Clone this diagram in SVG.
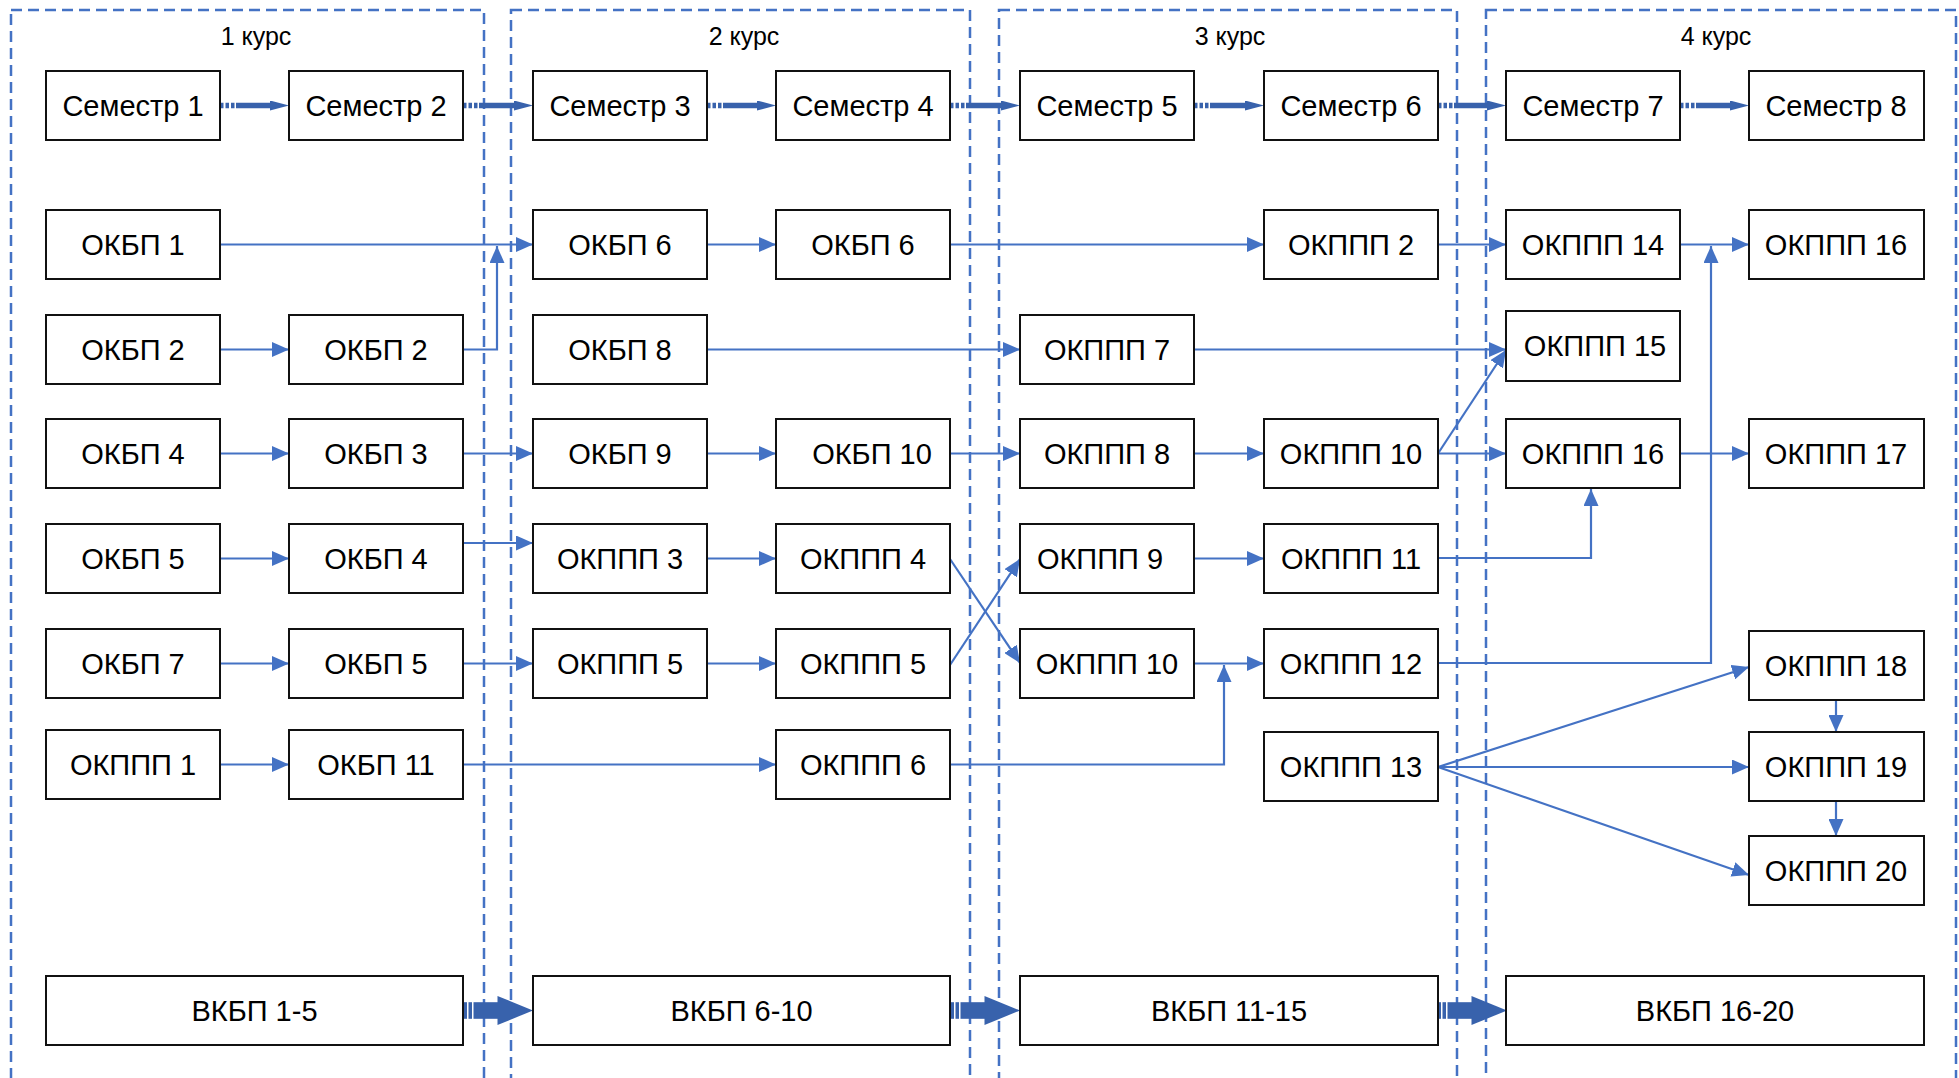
<svg xmlns="http://www.w3.org/2000/svg" width="1959" height="1078" viewBox="0 0 1959 1078">
<style>
.p{fill:none;stroke:#4472C4;stroke-width:2.5;stroke-dasharray:11 6}
.pl{font-family:"Liberation Sans",Arial,sans-serif;font-size:25px;fill:#000;text-anchor:middle}
.n rect{fill:#fff;stroke:#111;stroke-width:2}
.n text{font-family:"Liberation Sans",Arial,sans-serif;font-size:29px;fill:#000;text-anchor:middle}
.c{fill:none;stroke:#4472C4;stroke-width:2.2}
.s{fill:none;stroke:#3862AC;stroke-width:5.5;stroke-dasharray:3.5 2 3.5 2 3.5 1.5 200}
.b{fill:#3862AC}
</style>
<defs>
<marker id="a" markerUnits="userSpaceOnUse" markerWidth="17" markerHeight="15" refX="17" refY="7.5" orient="auto"><path d="M0,0 L17,7.5 L0,15 z" fill="#4472C4"/></marker>
<marker id="sa" markerUnits="userSpaceOnUse" markerWidth="19" markerHeight="10" refX="0" refY="5" orient="auto"><path d="M0,0 L19,5 L0,10 z" fill="#3862AC"/></marker>
<g id="blk"><rect x="0" y="-8.3" width="4" height="16.6"/><rect x="5.5" y="-8.3" width="3.5" height="16.6"/><rect x="10.5" y="-8.3" width="24.5" height="16.6"/><path d="M34.5,-14.5 L70,0 L34.5,14.5 z"/></g>
</defs>
<rect width="1959" height="1078" fill="#fff"/>
<g id="panels">
<rect class="p" x="11" y="10" width="473" height="1090"/>
<rect class="p" x="511" y="10" width="459" height="1090"/>
<rect class="p" x="999" y="10" width="458" height="1090"/>
<rect class="p" x="1486" y="10" width="470" height="1090"/>
<text class="pl" x="256" y="45">1 курс</text>
<text class="pl" x="744" y="45">2 курс</text>
<text class="pl" x="1230" y="45">3 курс</text>
<text class="pl" x="1716" y="45">4 курс</text>
</g>
<g id="connectors">
<path class="s" d="M220,105.5 H270" marker-end="url(#sa)"/>
<path class="s" d="M463,105.5 H514" marker-end="url(#sa)"/>
<path class="s" d="M707,105.5 H757" marker-end="url(#sa)"/>
<path class="s" d="M950,105.5 H1001" marker-end="url(#sa)"/>
<path class="s" d="M1194,105.5 H1245" marker-end="url(#sa)"/>
<path class="s" d="M1438,105.5 H1487" marker-end="url(#sa)"/>
<path class="s" d="M1680,105.5 H1730" marker-end="url(#sa)"/>
<path class="c" d="M220,244.5 H533" marker-end="url(#a)"/>
<path class="c" d="M463,349.5 H497 V246" marker-end="url(#a)"/>
<path class="c" d="M707,244.5 H776" marker-end="url(#a)"/>
<path class="c" d="M950,244.5 H1264" marker-end="url(#a)"/>
<path class="c" d="M1438,244.5 H1506" marker-end="url(#a)"/>
<path class="c" d="M1680,244.5 H1749" marker-end="url(#a)"/>
<path class="c" d="M220,349.5 H289" marker-end="url(#a)"/>
<path class="c" d="M707,349.5 H1020" marker-end="url(#a)"/>
<path class="c" d="M1194,349.5 H1506" marker-end="url(#a)"/>
<path class="c" d="M220,453.5 H289" marker-end="url(#a)"/>
<path class="c" d="M463,453.5 H533" marker-end="url(#a)"/>
<path class="c" d="M707,453.5 H776" marker-end="url(#a)"/>
<path class="c" d="M950,453.5 H1020" marker-end="url(#a)"/>
<path class="c" d="M1194,453.5 H1264" marker-end="url(#a)"/>
<path class="c" d="M1438,453.5 H1506" marker-end="url(#a)"/>
<path class="c" d="M1680,453.5 H1749" marker-end="url(#a)"/>
<path class="c" d="M1438,453.5 L1506,350" marker-end="url(#a)"/>
<path class="c" d="M220,558.5 H289" marker-end="url(#a)"/>
<path class="c" d="M463,543 H533" marker-end="url(#a)"/>
<path class="c" d="M707,558.5 H776" marker-end="url(#a)"/>
<path class="c" d="M1194,558.5 H1264" marker-end="url(#a)"/>
<path class="c" d="M1438,558 H1591 V489" marker-end="url(#a)"/>
<path class="c" d="M950,559 L1020,663" marker-end="url(#a)"/>
<path class="c" d="M950,665 L1020,559" marker-end="url(#a)"/>
<path class="c" d="M220,663.5 H289" marker-end="url(#a)"/>
<path class="c" d="M463,663.5 H533" marker-end="url(#a)"/>
<path class="c" d="M707,663.5 H776" marker-end="url(#a)"/>
<path class="c" d="M1194,663.5 H1264" marker-end="url(#a)"/>
<path class="c" d="M950,764.5 H1224 V665" marker-end="url(#a)"/>
<path class="c" d="M1438,663 H1711 V246" marker-end="url(#a)"/>
<path class="c" d="M220,764.5 H289" marker-end="url(#a)"/>
<path class="c" d="M463,764.5 H776" marker-end="url(#a)"/>
<path class="c" d="M1438,767 L1749,667" marker-end="url(#a)"/>
<path class="c" d="M1438,767 H1749" marker-end="url(#a)"/>
<path class="c" d="M1438,767 L1749,875" marker-end="url(#a)"/>
<path class="c" d="M1836,700 V732" marker-end="url(#a)"/>
<path class="c" d="M1836,801 V836" marker-end="url(#a)"/>
<use href="#blk" class="b" x="463" y="1010.5"/>
<use href="#blk" class="b" x="950" y="1010.5"/>
<use href="#blk" class="b" x="1437" y="1010.5"/>
</g>
<g id="n-sem1" class="n"><rect x="46" y="71" width="174" height="69"/><text x="133" y="116">Семестр 1</text></g>
<g id="n-sem2" class="n"><rect x="289" y="71" width="174" height="69"/><text x="376" y="116">Семестр 2</text></g>
<g id="n-sem3" class="n"><rect x="533" y="71" width="174" height="69"/><text x="620" y="116">Семестр 3</text></g>
<g id="n-sem4" class="n"><rect x="776" y="71" width="174" height="69"/><text x="863" y="116">Семестр 4</text></g>
<g id="n-sem5" class="n"><rect x="1020" y="71" width="174" height="69"/><text x="1107" y="116">Семестр 5</text></g>
<g id="n-sem6" class="n"><rect x="1264" y="71" width="174" height="69"/><text x="1351" y="116">Семестр 6</text></g>
<g id="n-sem7" class="n"><rect x="1506" y="71" width="174" height="69"/><text x="1593" y="116">Семестр 7</text></g>
<g id="n-sem8" class="n"><rect x="1749" y="71" width="175" height="69"/><text x="1836" y="116">Семестр 8</text></g>

<g id="n-a1" class="n"><rect x="46" y="210" width="174" height="69"/><text x="133" y="255">ОКБП 1</text></g>
<g id="n-c1" class="n"><rect x="533" y="210" width="174" height="69"/><text x="620" y="255">ОКБП 6</text></g>
<g id="n-d1" class="n"><rect x="776" y="210" width="174" height="69"/><text x="863" y="255">ОКБП 6</text></g>
<g id="n-f1" class="n"><rect x="1264" y="210" width="174" height="69"/><text x="1351" y="255">ОКППП 2</text></g>
<g id="n-g1" class="n"><rect x="1506" y="210" width="174" height="69"/><text x="1593" y="255">ОКППП 14</text></g>
<g id="n-h1" class="n"><rect x="1749" y="210" width="175" height="69"/><text x="1836" y="255">ОКППП 16</text></g>

<g id="n-a2" class="n"><rect x="46" y="315" width="174" height="69"/><text x="133" y="360">ОКБП 2</text></g>
<g id="n-b2" class="n"><rect x="289" y="315" width="174" height="69"/><text x="376" y="360">ОКБП 2</text></g>
<g id="n-c2" class="n"><rect x="533" y="315" width="174" height="69"/><text x="620" y="360">ОКБП 8</text></g>
<g id="n-e2" class="n"><rect x="1020" y="315" width="174" height="69"/><text x="1107" y="360">ОКППП 7</text></g>
<g id="n-g2" class="n"><rect x="1506" y="311" width="174" height="70"/><text x="1595" y="356">ОКППП 15</text></g>

<g id="n-a3" class="n"><rect x="46" y="419" width="174" height="69"/><text x="133" y="464">ОКБП 4</text></g>
<g id="n-b3" class="n"><rect x="289" y="419" width="174" height="69"/><text x="376" y="464">ОКБП 3</text></g>
<g id="n-c3" class="n"><rect x="533" y="419" width="174" height="69"/><text x="620" y="464">ОКБП 9</text></g>
<g id="n-d3" class="n"><rect x="776" y="419" width="174" height="69"/><text x="872" y="464">ОКБП 10</text></g>
<g id="n-e3" class="n"><rect x="1020" y="419" width="174" height="69"/><text x="1107" y="464">ОКППП 8</text></g>
<g id="n-f3" class="n"><rect x="1264" y="419" width="174" height="69"/><text x="1351" y="464">ОКППП 10</text></g>
<g id="n-g3" class="n"><rect x="1506" y="419" width="174" height="69"/><text x="1593" y="464">ОКППП 16</text></g>
<g id="n-h3" class="n"><rect x="1749" y="419" width="175" height="69"/><text x="1836" y="464">ОКППП 17</text></g>

<g id="n-a4" class="n"><rect x="46" y="524" width="174" height="69"/><text x="133" y="569">ОКБП 5</text></g>
<g id="n-b4" class="n"><rect x="289" y="524" width="174" height="69"/><text x="376" y="569">ОКБП 4</text></g>
<g id="n-c4" class="n"><rect x="533" y="524" width="174" height="69"/><text x="620" y="569">ОКППП 3</text></g>
<g id="n-d4" class="n"><rect x="776" y="524" width="174" height="69"/><text x="863" y="569">ОКППП 4</text></g>
<g id="n-e4" class="n"><rect x="1020" y="524" width="174" height="69"/><text x="1100" y="569">ОКППП 9</text></g>
<g id="n-f4" class="n"><rect x="1264" y="524" width="174" height="69"/><text x="1351" y="569">ОКППП 11</text></g>

<g id="n-a5" class="n"><rect x="46" y="629" width="174" height="69"/><text x="133" y="674">ОКБП 7</text></g>
<g id="n-b5" class="n"><rect x="289" y="629" width="174" height="69"/><text x="376" y="674">ОКБП 5</text></g>
<g id="n-c5" class="n"><rect x="533" y="629" width="174" height="69"/><text x="620" y="674">ОКППП 5</text></g>
<g id="n-d5" class="n"><rect x="776" y="629" width="174" height="69"/><text x="863" y="674">ОКППП 5</text></g>
<g id="n-e5" class="n"><rect x="1020" y="629" width="174" height="69"/><text x="1107" y="674">ОКППП 10</text></g>
<g id="n-f5" class="n"><rect x="1264" y="629" width="174" height="69"/><text x="1351" y="674">ОКППП 12</text></g>
<g id="n-h5" class="n"><rect x="1749" y="631" width="175" height="69"/><text x="1836" y="676">ОКППП 18</text></g>

<g id="n-a6" class="n"><rect x="46" y="730" width="174" height="69"/><text x="133" y="775">ОКППП 1</text></g>
<g id="n-b6" class="n"><rect x="289" y="730" width="174" height="69"/><text x="376" y="775">ОКБП 11</text></g>
<g id="n-d6" class="n"><rect x="776" y="730" width="174" height="69"/><text x="863" y="775">ОКППП 6</text></g>
<g id="n-f6" class="n"><rect x="1264" y="732" width="174" height="69"/><text x="1351" y="777">ОКППП 13</text></g>
<g id="n-h6" class="n"><rect x="1749" y="732" width="175" height="69"/><text x="1836" y="777">ОКППП 19</text></g>
<g id="n-h7" class="n"><rect x="1749" y="836" width="175" height="69"/><text x="1836" y="881">ОКППП 20</text></g>

<g id="n-v1" class="n"><rect x="46" y="976" width="417" height="69"/><text x="254.5" y="1021">ВКБП 1-5</text></g>
<g id="n-v2" class="n"><rect x="533" y="976" width="417" height="69"/><text x="741.5" y="1021">ВКБП 6-10</text></g>
<g id="n-v3" class="n"><rect x="1020" y="976" width="418" height="69"/><text x="1229" y="1021">ВКБП 11-15</text></g>
<g id="n-v4" class="n"><rect x="1506" y="976" width="418" height="69"/><text x="1715" y="1021">ВКБП 16-20</text></g>
</svg>
